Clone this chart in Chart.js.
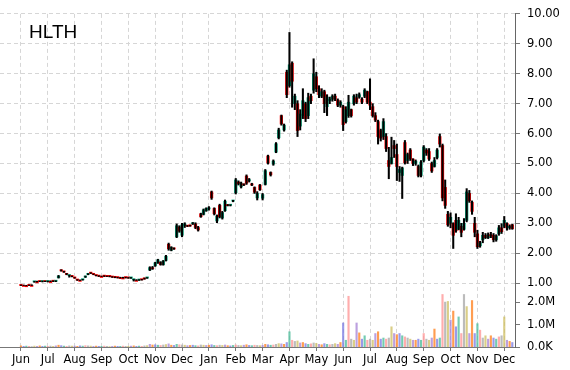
<!DOCTYPE html>
<html>
<head>
<meta charset="utf-8">
<title>HLTH</title>
<style>
  body { margin: 0; background: #fff; }
  #wrap { width: 570px; height: 370px; }
</style>
</head>
<body>
<div id="wrap"><canvas id="chart" width="570" height="370"></canvas></div>
<script src="https://cdn.jsdelivr.net/npm/chart.js@4.4.1/dist/chart.umd.min.js"></script>
<script>
	const symbol = 'HLTH';

	// one month = 10 candles (each candle ~2 trading days)
	const monthLabels = ['Jun', 'Jul', 'Aug', 'Sep', 'Oct', 'Nov', 'Dec', 'Jan', 'Feb', 'Mar',
		'Apr', 'May', 'Jun', 'Jul', 'Aug', 'Sep', 'Oct', 'Nov', 'Dec'];
	const candlesPerMonth = 10;

	const open = [
		.93, .93, .92, .93, .93, 1.04, 1.05, 1.06, 1.05, 1.06,
		1.05, 1.06, 1.07, 1.06, 1.18, 1.43, 1.38, 1.31, 1.25, 1.23,
		1.18, 1.11, 1.10, 1.11, 1.20, 1.29, 1.34, 1.30, 1.26, 1.24,
		1.23, 1.24, 1.23, 1.23, 1.21, 1.20, 1.19, 1.19, 1.18, 1.19,
		1.18, 1.17, 1.11, 1.10, 1.10, 1.12, 1.15, 1.17, 1.44, 1.50,
		1.58, 1.68, 1.70, 1.62, 1.76, 2.30, 2.10, 2.17, 2.55, 2.88,
		2.60, 2.92, 2.92, 2.92, 2.98, 2.98, 2.86, 3.32, 3.30, 3.42,
		3.48, 4.05, 3.50, 3.08, 3.60, 3.18, 3.42, 3.62, 3.60, 3.74,
		4.02, 4.38, 4.22, 4.30, 4.58, 4.42, 4.32, 4.20, 3.85, 4.28,
		3.84, 4.30, 5.25, 4.70, 4.98, 5.38, 5.86, 6.60, 6.12, 8.05,
		7.60, 8.35, 7.00, 7.00, 6.25, 6.60, 7.00, 6.60, 7.25, 7.45,
		7.90, 7.50, 7.25, 7.40, 6.90, 7.10, 7.15, 7.25, 7.12, 6.95,
		6.90, 6.40, 6.60, 6.80, 7.00, 7.20, 7.22, 7.15, 7.25, 7.40,
		7.05, 6.90, 6.60, 6.40, 6.10, 5.90, 5.90, 5.10, 5.00, 5.60,
		5.30, 4.70, 4.60, 5.70, 5.10, 5.45, 5.15, 5.00, 4.90, 4.60,
		5.10, 5.45, 5.40, 5.00, 4.90, 5.20, 5.90, 5.60, 4.20, 3.30,
		3.00, 3.00, 3.10, 2.80, 2.90, 2.80, 3.10, 4.00, 3.70, 3.00,
		2.65, 2.25, 2.45, 2.60, 2.52, 2.60, 2.60, 2.45, 2.65, 2.85,
		2.90, 3.00, 2.85, 2.95
	];
	const high = [
		.94, .94, .93, .94, .95, 1.06, 1.07, 1.07, 1.07, 1.07,
		1.07, 1.08, 1.08, 1.08, 1.26, 1.45, 1.40, 1.33, 1.27, 1.24,
		1.19, 1.12, 1.11, 1.13, 1.24, 1.32, 1.35, 1.31, 1.27, 1.25,
		1.24, 1.25, 1.24, 1.24, 1.22, 1.21, 1.20, 1.20, 1.20, 1.20,
		1.19, 1.19, 1.13, 1.12, 1.12, 1.13, 1.17, 1.19, 1.55, 1.56,
		1.70, 1.80, 1.72, 1.76, 1.93, 2.34, 2.22, 2.18, 2.98, 2.92,
		3.00, 3.02, 2.93, 2.94, 3.03, 3.02, 2.90, 3.34, 3.48, 3.52,
		3.56, 4.08, 3.52, 3.28, 3.64, 3.40, 3.78, 3.63, 3.62, 3.77,
		4.50, 4.42, 4.38, 4.32, 4.62, 4.50, 4.34, 4.22, 4.06, 4.30,
		4.00, 4.80, 5.28, 4.72, 5.12, 5.70, 6.18, 6.62, 6.32, 8.12,
		9.38, 8.40, 7.32, 7.10, 6.80, 7.50, 7.05, 7.35, 7.32, 8.50,
		8.05, 7.60, 7.50, 7.45, 7.30, 7.22, 7.30, 7.32, 7.16, 7.10,
		6.95, 6.90, 7.28, 6.82, 7.30, 7.32, 7.36, 7.20, 7.50, 7.42,
		7.83, 7.00, 6.70, 6.45, 6.15, 6.50, 6.00, 5.54, 5.88, 5.77,
		5.65, 4.90, 4.88, 5.77, 5.35, 5.50, 5.16, 5.12, 4.95, 5.10,
		5.60, 5.50, 5.50, 5.05, 5.20, 5.50, 5.99, 5.65, 4.45, 3.40,
		3.35, 3.02, 3.32, 3.20, 3.00, 3.16, 4.16, 4.10, 3.75, 3.20,
		2.77, 2.40, 2.70, 2.66, 2.68, 2.70, 2.66, 2.62, 2.93, 2.99,
		3.23, 3.02, 2.95, 2.97
	];
	const low = [
		.92, .92, .91, .92, .92, 1.03, 1.04, 1.05, 1.04, 1.05,
		1.04, 1.05, 1.05, 1.05, 1.17, 1.40, 1.36, 1.28, 1.20, 1.21,
		1.16, 1.09, 1.09, 1.10, 1.19, 1.28, 1.32, 1.28, 1.24, 1.22,
		1.22, 1.22, 1.22, 1.21, 1.19, 1.18, 1.17, 1.17, 1.17, 1.17,
		1.16, 1.16, 1.07, 1.09, 1.09, 1.10, 1.13, 1.16, 1.42, 1.46,
		1.56, 1.66, 1.60, 1.60, 1.74, 2.10, 2.08, 2.13, 2.52, 2.70,
		2.55, 2.86, 2.89, 2.90, 2.96, 2.82, 2.74, 3.20, 3.28, 3.40,
		3.44, 3.80, 3.28, 3.02, 3.18, 3.14, 3.40, 3.58, 3.58, 3.72,
		3.98, 4.28, 4.18, 4.26, 4.30, 4.38, 4.26, 4.00, 3.78, 4.10,
		3.78, 4.28, 4.98, 4.58, 4.94, 5.36, 5.82, 6.28, 6.08, 7.20,
		7.55, 6.88, 6.80, 5.90, 6.12, 6.50, 6.40, 6.50, 7.00, 7.35,
		7.40, 7.20, 7.20, 6.70, 6.60, 7.00, 7.08, 7.10, 6.90, 6.88,
		6.10, 6.35, 6.54, 6.55, 6.95, 7.00, 7.18, 7.00, 7.20, 7.00,
		6.80, 6.55, 6.40, 5.65, 5.75, 5.80, 5.40, 4.49, 4.98, 5.20,
		4.43, 4.40, 3.83, 4.98, 5.00, 5.10, 4.93, 4.94, 4.55, 4.55,
		5.05, 5.27, 5.10, 4.70, 4.88, 5.15, 5.55, 3.75, 3.50, 2.90,
		2.85, 2.16, 2.70, 2.78, 2.55, 2.77, 3.05, 3.70, 3.30, 2.55,
		2.16, 2.20, 2.35, 2.49, 2.49, 2.52, 2.38, 2.40, 2.60, 2.66,
		2.85, 2.77, 2.80, 2.80
	];
	const close = [
		.92, .93, .92, .92, .93, 1.05, 1.05, 1.05, 1.06, 1.05,
		1.06, 1.06, 1.06, 1.07, 1.24, 1.41, 1.37, 1.29, 1.26, 1.22,
		1.17, 1.10, 1.10, 1.12, 1.23, 1.31, 1.33, 1.29, 1.25, 1.23,
		1.23, 1.23, 1.22, 1.22, 1.20, 1.19, 1.18, 1.19, 1.18, 1.18,
		1.17, 1.18, 1.12, 1.10, 1.11, 1.11, 1.14, 1.18, 1.52, 1.48,
		1.68, 1.78, 1.62, 1.74, 1.90, 2.15, 2.20, 2.14, 2.92, 2.74,
		2.95, 2.98, 2.90, 2.91, 3.00, 2.86, 2.78, 3.22, 3.45, 3.50,
		3.52, 3.85, 3.32, 3.24, 3.22, 3.36, 3.74, 3.59, 3.61, 3.75,
		4.45, 4.32, 4.34, 4.28, 4.34, 4.46, 4.28, 4.04, 4.00, 4.12,
		3.96, 4.76, 5.02, 4.62, 5.08, 5.66, 6.12, 6.32, 6.28, 7.30,
		8.30, 7.75, 7.25, 6.10, 6.65, 7.10, 6.50, 7.20, 7.10, 8.00,
		7.50, 7.30, 7.40, 7.00, 7.22, 7.15, 7.25, 7.15, 6.95, 7.05,
		6.30, 6.80, 7.05, 6.60, 7.25, 7.05, 7.30, 7.05, 7.45, 7.05,
		6.95, 6.60, 6.45, 5.90, 5.85, 6.40, 5.50, 4.90, 5.20, 5.50,
		4.90, 4.80, 4.85, 5.02, 5.30, 5.15, 5.00, 5.08, 4.60, 5.05,
		5.55, 5.35, 5.15, 4.75, 5.10, 5.45, 5.65, 3.85, 3.60, 2.95,
		3.20, 2.60, 2.75, 3.10, 2.70, 3.00, 4.05, 3.75, 3.40, 2.70,
		2.22, 2.35, 2.60, 2.52, 2.62, 2.58, 2.45, 2.58, 2.85, 2.72,
		3.10, 2.85, 2.90, 2.82
	];
	// volume in millions of shares
	const volumeM = [
		.05, .03, .04, .03, .02, .04, .03, .05, .03, .04,
		.03, .04, .03, .05, .08, .06, .04, .03, .05, .04,
		.04, .03, .05, .04, .06, .05, .04, .03, .04, .03,
		.03, .04, .03, .02, .03, .04, .03, .03, .04, .03,
		.03, .04, .05, .03, .04, .03, .05, .06, .12, .09,
		.10, .08, .07, .09, .11, .14, .08, .07, .12, .10,
		.09, .08, .06, .07, .08, .06, .05, .09, .08, .07,
		.08, .10, .07, .06, .08, .07, .09, .06, .05, .07,
		.09, .07, .06, .08, .10, .07, .06, .08, .07, .06,
		.07, .12, .10, .08, .09, .12, .15, .14, .12, .20,
		.68, .30, .25, .27, .18, .20, .15, .12, .14, .18,
		.16, .12, .10, .15, .12, .10, .12, .15, .12, .20,
		1.07, .30, 2.26, .35, .30, 1.07, .63, .35, .50, .30,
		.35, .30, .60, .68, .35, .40, .35, .40, .90, .60,
		.55, .60, .50, .45, .40, .35, .30, .30, .35, .30,
		.60, .35, .30, .40, .80, .35, .40, 2.34, 2.00, 2.03,
		1.20, 1.60, .90, 1.34, .60, 2.34, 1.80, .60, 2.07, .60,
		1.04, .75, .40, .50, .35, .50, .40, .35, .45, .50,
		1.34, .30, .25, .20
	];

	const priceTicks = [1, 2, 3, 4, 5, 6, 7, 8, 9, 10];
	const volumeTicks = [0, 1, 2];
	const volumeTickLabels = ['0.0K', '1.0M', '2.0M'];

	// axis ranges, chosen so price and volume share the plot area
	const yMin = -1.1333, yMax = 10;
	const volMax = 14.84;
	const xMin = -7.8, xMax = 184;

	const upColor = '#00a277';
	const downColor = '#ff0000';
	const gridColor = '#d6d6d6';
	const volPalette = ['rgba(255,140,50,0.85)', 'rgba(120,120,225,0.75)', 'rgba(70,185,150,0.75)',
		'rgba(255,145,145,0.75)', 'rgba(165,165,165,0.75)', 'rgba(205,190,95,0.75)', 'rgba(160,120,210,0.7)'];

	function volToPrice(v) {
		return yMin + v / volMax * (yMax - yMin);
	}

	const font = { family: '"DejaVu Sans", Verdana, sans-serif', size: 11.5 };

	const symbolTitle = {
		id: 'symbolTitle',
		afterDraw(chart) {
			const ctx = chart.ctx;
			ctx.save();
			ctx.font = '19px "Liberation Sans", Arial, sans-serif';
			ctx.fillStyle = '#000';
			ctx.textBaseline = 'alphabetic';
			ctx.fillText(symbol, chart.chartArea.left + 29, chart.chartArea.top + 24);
			ctx.restore();
		}
	};

	const ctx = document.getElementById('chart').getContext('2d');

	// datasets listed first are drawn on top
	new Chart(ctx, {
		type: 'bar',
		data: {
			datasets: [{
				label: 'wick',
				data: open.map((o, i) => ({ x: i, y: [low[i], high[i]] })),
				backgroundColor: '#000',
				barThickness: 1.4,
				grouped: false,
				yAxisID: 'y'
			}, {
				label: 'body',
				data: open.map((o, i) => ({ x: i, y: [o, close[i]] })),
				backgroundColor: open.map((o, i) => close[i] > o ? upColor : downColor),
				barThickness: 2.6,
				minBarLength: 1.2,
				grouped: false,
				yAxisID: 'y'
			}, {
				label: 'volume',
				data: volumeM.map((v, i) => ({ x: i, y: v })),
				backgroundColor: volumeM.map((v, i) => volPalette[i % volPalette.length]),
				barThickness: 1.5,
				grouped: false,
				yAxisID: 'yv'
			}]
		},
		options: {
			responsive: false,
			animation: false,
			layout: { padding: { top: 13, left: 0, right: 0, bottom: 0 } },
			plugins: {
				legend: { display: false },
				tooltip: { enabled: false }
			},
			scales: {
				x: {
					type: 'linear',
					min: xMin,
					max: xMax,
					offset: false,
					afterBuildTicks: s => {
						s.ticks = monthLabels.map((m, k) => ({ value: k * candlesPerMonth }));
					},
					afterFit: s => { s.height = 23; },
					grid: { color: gridColor, tickColor: '#777', tickLength: 4, offset: false },
					border: { color: '#777', dash: [4, 3] },
					ticks: {
						autoSkip: false,
						maxRotation: 0,
						padding: 2,
						color: '#000',
						font: font,
						callback: (v, k) => monthLabels[k]
					}
				},
				y: {
					position: 'right',
					min: yMin,
					max: yMax,
					afterBuildTicks: s => {
						s.ticks = priceTicks.map(v => ({ value: v }))
							.concat(volumeTicks.map(v => ({ value: volToPrice(v) })));
					},
					afterFit: s => { s.width = 55; },
					grid: {
						color: c => c.index < priceTicks.length ? gridColor : 'rgba(0,0,0,0)',
						tickColor: '#777',
						tickLength: 5
					},
					border: { color: '#666', dash: [4, 3] },
					ticks: {
						autoSkip: false,
						padding: 7,
						color: '#000',
						font: font,
						callback: (v, k) => k < priceTicks.length ? v.toFixed(2) : volumeTickLabels[k - priceTicks.length]
					}
				},
				yv: {
					display: false,
					min: 0,
					max: volMax
				}
			}
		},
		plugins: [symbolTitle]
	});
</script>
</body>
</html>
